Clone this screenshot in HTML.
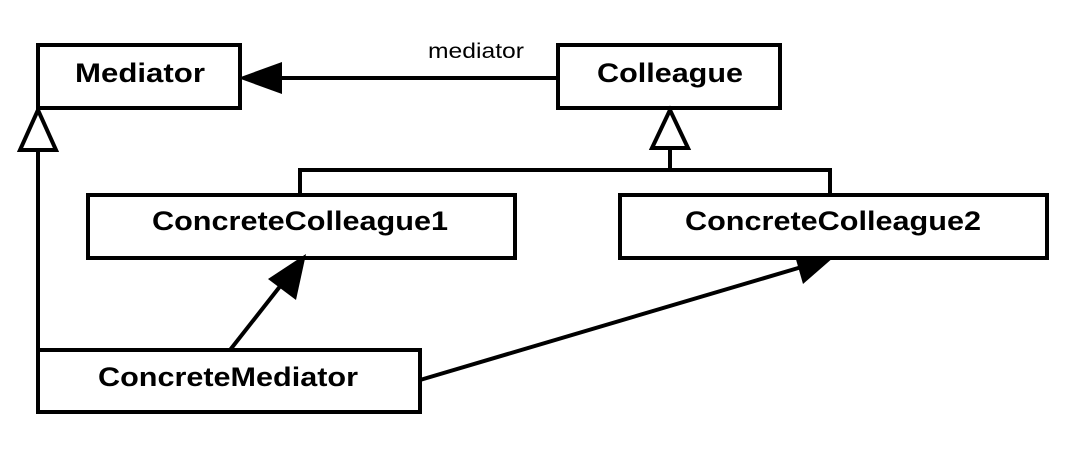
<!DOCTYPE html>
<html><head><style>body{margin:0;background:#fff}svg{display:block}</style></head>
<body>
<svg width="1088" height="454" viewBox="0 0 1088 454" xmlns="http://www.w3.org/2000/svg" font-family="Liberation Sans, sans-serif">
<g fill="#fff" stroke="#000" stroke-width="4">
<rect x="38" y="45" width="202" height="63"/>
<rect x="558" y="45" width="222" height="63"/>
<rect x="88" y="195" width="427" height="63"/>
<rect x="620" y="195" width="427" height="63"/>
<rect x="38" y="350" width="382" height="62"/>
</g>
<g stroke="#000" stroke-width="4" fill="none">
<line x1="262" y1="78" x2="558" y2="78"/>
<line x1="38" y1="150" x2="38" y2="350"/>
<polyline points="670,148 670,170 300,170 300,195"/>
<polyline points="670,170 830,170 830,195"/>
<line x1="230" y1="350" x2="285" y2="280"/>
<line x1="420" y1="380" x2="805" y2="266"/>
</g>
<polygon points="238,78 282,62 282,94" fill="#000"/>
<polygon points="38,110 20,150 56,150" fill="#fff" stroke="#000" stroke-width="4"/>
<polygon points="670,110 652,148 688,148" fill="#fff" stroke="#000" stroke-width="4"/>
<polygon points="306,254 296,300 268,279" fill="#000"/>
<polygon points="834,257 803,284 795,256" fill="#000"/>
<g font-weight="bold" font-size="27" text-anchor="middle" lengthAdjust="spacingAndGlyphs">
<text x="140" y="82" textLength="130" lengthAdjust="spacingAndGlyphs">Mediator</text>
<text x="670" y="82" textLength="146" lengthAdjust="spacingAndGlyphs">Colleague</text>
<text x="300" y="230" textLength="296" lengthAdjust="spacingAndGlyphs">ConcreteColleague1</text>
<text x="833" y="230" textLength="296" lengthAdjust="spacingAndGlyphs">ConcreteColleague2</text>
<text x="228" y="386" textLength="260" lengthAdjust="spacingAndGlyphs">ConcreteMediator</text>
</g>
<text x="476" y="58" font-size="21" text-anchor="middle" textLength="96" lengthAdjust="spacingAndGlyphs">mediator</text>
</svg>
</body></html>
